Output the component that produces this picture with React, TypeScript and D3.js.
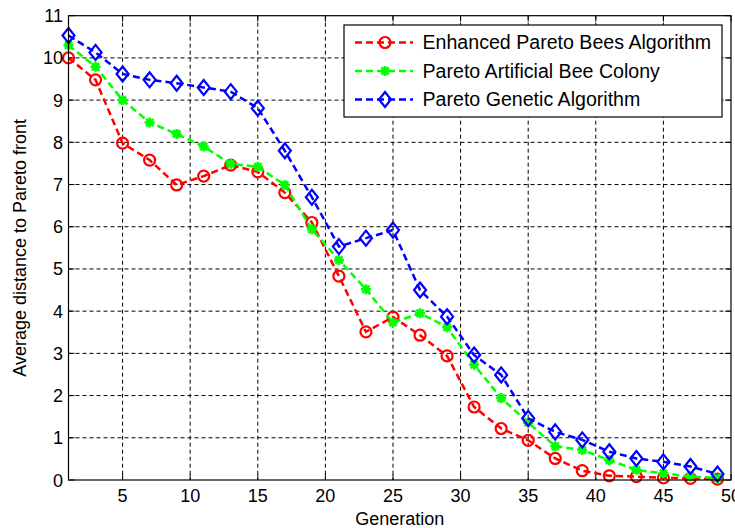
import React from "react";
import * as d3 from "d3";

const generations = [1,3,5,7,9,11,13,15,17,19,21,23,25,27,29,31,33,35,37,39,41,43,45,47,49];
const epba = [10.0,9.48,7.98,7.58,6.99,7.2,7.46,7.3,6.81,6.1,4.83,3.51,3.86,3.43,2.94,1.73,1.22,0.94,0.51,0.22,0.1,0.08,0.05,0.04,0.02];
const pabc = [10.3,9.79,9.0,8.47,8.2,7.9,7.49,7.42,6.99,5.94,5.21,4.52,3.73,3.95,3.62,2.73,1.94,1.36,0.8,0.71,0.47,0.24,0.16,0.08,0.05];
const pga = [10.53,10.13,9.62,9.48,9.4,9.3,9.2,8.81,7.8,6.7,5.53,5.73,5.92,4.5,3.87,2.96,2.49,1.46,1.14,0.95,0.67,0.51,0.43,0.32,0.14];
const xTicks = [5,10,15,20,25,30,35,40,45,50];
const yTicks = [0,1,2,3,4,5,6,7,8,9,10,11];
const seriesNames = ["Enhanced Pareto Bees Algorithm","Pareto Artificial Bee Colony","Pareto Genetic Algorithm"];
const seriesColors = ["#ff0000","#00ff00","#0000ff"];
const seriesMarkers = ["circle","star","diamond"];

const W = 735, H = 528;
const L = 68.5, R = 731, T = 15.7, B = 480;
const FONT = "Arial, 'Liberation Sans', Helvetica, sans-serif";

function Marker({ kind, x, y, color }: { kind: string; x: number; y: number; color: string }) {
  if (kind === "circle") return <circle cx={x} cy={y} r={5.5} fill="none" stroke={color} strokeWidth={2.2} />;
  if (kind === "diamond") {
    const sy = 7.5, sx = 6;
    return <path d={`M${x},${y - sy}L${x + sx},${y}L${x},${y + sy}L${x - sx},${y}Z`} fill="none" stroke={color} strokeWidth={2.2} />;
  }
  const s = 5, d = 3.6;
  return <path d={`M${x - s},${y}L${x + s},${y}M${x},${y - s}L${x},${y + s}M${x - d},${y - d}L${x + d},${y + d}M${x - d},${y + d}L${x + d},${y - d}`} stroke={color} strokeWidth={2.6} fill="none" />;
}

export default function App() {
  const x = d3.scaleLinear().domain([1, 50]).range([L, R]);
  const y = d3.scaleLinear().domain([0, 11]).range([B, T]);
  const data = [epba, pabc, pga];
  const line = d3.line<number>().x((_, i) => x(generations[i])).y((v) => y(v));
  const lx = 344, ly = 25, lw = 378, lh = 92;
  const rows = [42.5, 71, 99.5];
  return (
    <svg width={W} height={H} style={{ position: "absolute", left: 0, top: 0, background: "#fff" }}>
      <rect x={0} y={0} width={W} height={H} fill="#fff" />
      {xTicks.filter((t) => t < 50).map((t) => (
        <line key={"gx" + t} x1={x(t)} x2={x(t)} y1={T} y2={B} stroke="#000" strokeWidth={1} strokeDasharray="4,3" />
      ))}
      {yTicks.filter((t) => t > 0 && t < 11).map((t) => (
        <line key={"gy" + t} x1={L} x2={R} y1={y(t)} y2={y(t)} stroke="#000" strokeWidth={1} strokeDasharray="4,3" />
      ))}
      {xTicks.map((t) => (
        <g key={"tx" + t}>
          <line x1={x(t)} x2={x(t)} y1={B} y2={B - 6} stroke="#000" />
          <line x1={x(t)} x2={x(t)} y1={T} y2={T + 6} stroke="#000" />
        </g>
      ))}
      {yTicks.map((t) => (
        <g key={"ty" + t}>
          <line x1={L} x2={L + 6} y1={y(t)} y2={y(t)} stroke="#000" />
          <line x1={R} x2={R - 6} y1={y(t)} y2={y(t)} stroke="#000" />
        </g>
      ))}
      {data.map((vals, si) => (
        <g key={"s" + si}>
          <path d={line(vals) || ""} fill="none" stroke={seriesColors[si]} strokeWidth={2.5} strokeDasharray="7,4" />
          {vals.map((v, i) => (
            <Marker key={i} kind={seriesMarkers[si]} x={x(generations[i])} y={y(v)} color={seriesColors[si]} />
          ))}
        </g>
      ))}
      <rect x={L} y={T} width={R - L} height={B - T} fill="none" stroke="#000" strokeWidth={1.2} />
      {xTicks.map((t) => (
        <text key={"lx" + t} x={x(t)} y={502} textAnchor="middle" fontFamily={FONT} fontSize={18} fill="#000">{t}</text>
      ))}
      {yTicks.map((t) => (
        <text key={"ly" + t} x={63} y={y(t) + 6.5} textAnchor="end" fontFamily={FONT} fontSize={18} fill="#000">{t}</text>
      ))}
      <text x={(L + R) / 2} y={525} textAnchor="middle" fontFamily={FONT} fontSize={18} fill="#000">Generation</text>
      <text transform={`translate(26,${(T + B) / 2}) rotate(-90)`} textAnchor="middle" fontFamily={FONT} fontSize={18} fill="#000">Average distance to Pareto front</text>
      <rect x={lx} y={ly} width={lw} height={lh} fill="#fff" stroke="#000" strokeWidth={1.2} />
      {seriesNames.map((n, i) => (
        <g key={"lg" + i}>
          <line x1={355} x2={413} y1={rows[i]} y2={rows[i]} stroke={seriesColors[i]} strokeWidth={2.5} strokeDasharray="7,4" />
          <Marker kind={seriesMarkers[i]} x={385} y={rows[i]} color={seriesColors[i]} />
          <text x={422.5} y={rows[i] + 6.5} fontFamily={FONT} fontSize={19.6} fill="#000">{n}</text>
        </g>
      ))}
    </svg>
  );
}
